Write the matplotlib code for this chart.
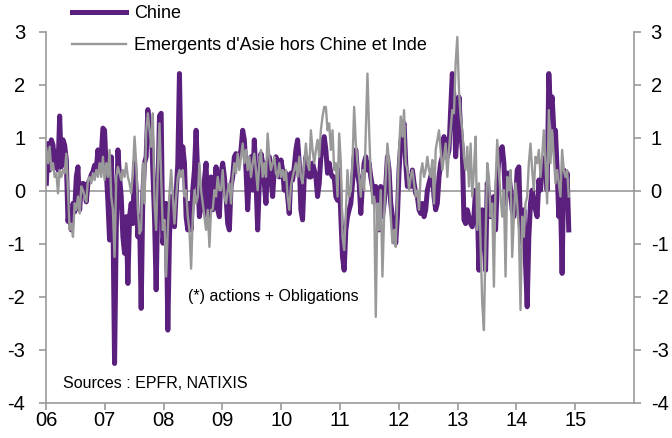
import matplotlib
matplotlib.use("Agg")
import matplotlib.pyplot as plt
import numpy as np
import pandas as pd

PURPLE = "#5b1f7d"
GREY = "#999999"
AXIS = "#999999"

plt.rcParams["font.family"] = ["Liberation Sans", "DejaVu Sans"]

# flux hebdomadaires (en % des actifs)
chine = [
    0.14, 0.89, 0.39, 0.96, 0.86, 0.45, 0.74, 0.39, 1.41, 0.45,
    0.96, 0.86, 0.58, -0.58, -0.36, -0.74, -0.24, -0.40, 0.26, 0.45,
    -0.36, 0.08, 0.14, 0.11, -0.21, 0.14, 0.20, 0.30, 0.36, 0.48,
    0.39, 0.77, 0.55, 0.67, 1.18, 1.14, 0.39, -0.21, -0.93, 0.64,
    -0.43, -3.26, -0.74, 0.77, 0.26, -0.11, -0.87, -1.18, -0.49, -1.75,
    -0.49, -0.24, -0.62, 0.52, 0.01, -0.87, -0.49, -2.22, -0.05, 0.52,
    0.64, 1.53, 1.14, 1.27, 0.39, -0.49, -1.87, -0.11, 1.41, 1.46,
    -0.99, -0.74, -0.24, -2.63, -0.87, -0.11, -0.49, -0.68, -0.05, 0.50,
    2.21, 0.33, 0.83, 0.52, -0.49, -0.74, -0.24, -0.74, 0.01, 0.39,
    1.14, 0.26, -0.49, -0.24, -0.36, 0.20, 0.52, -0.49, -0.24, 0.26,
    -0.36, 0.01, 0.45, -0.36, -0.49, 0.33, 0.52, 0.26, -0.11, -0.62,
    -0.74, 0.08, 0.26, 0.64, 0.70, 0.52, 0.64, 0.77, 1.14, 0.96,
    0.39, -0.36, 0.26, 0.64, 0.01, 0.96, 0.20, -0.74, 0.14, 0.70,
    0.52, 0.14, -0.24, 0.52, 0.64, 0.26, -0.11, 0.39, 0.64, 0.52,
    0.26, 0.58, 0.39, 0.01, 0.33, -0.11, -0.43, 0.33, 0.20, 0.45,
    0.77, 0.96, 0.52, -0.36, -0.55, 0.26, 0.64, 0.39, 0.26,
    0.26, 0.52, 0.39, 0.26, -0.11, 0.14, 0.64, 0.89, 1.02, 0.77,
    0.33, 0.52, 0.33, 0.26, 0.26, -0.11, -0.18, 0.39, -0.49, -1.25,
    -1.50, -0.74, -0.49, -0.36, -0.24, 0.14, 0.64, 0.77, 0.33, 0.14,
    -0.43, 0.14, 0.52, 0.64, 0.39, 0.52, 0.26, 0.08, -0.11, 0.08,
    0.01, -0.74, 0.08, -0.49, -0.24, 0.08, 0.64, 0.39, -0.24, -0.49,
    -0.74, -0.99, -0.49, 0.39, 0.89, 1.14, 1.27, 0.52, 0.08, 0.26,
    0.08, 0.39, 0.14, -0.05, -0.11, -0.36, -0.43, -0.24, -0.49, -0.36,
    0.01, 0.14, 0.26, 0.39, -0.11, -0.36, -0.24, 0.26, 0.52,
    0.64, 1.02, 0.64, 0.64, 0.77, 1.52, 2.21, 1.77, 0.64, 1.14,
    1.77, 1.14, 0.77, -0.55, -0.62, -0.36, -0.49, -0.62, -0.68, -0.49,
    0.01, -0.24, -1.50, -0.74, -0.36, -0.74, -1.50, 0.14, -0.11, -0.49,
    -0.24, -0.11, -0.74, 0.14, 0.64, 0.77, 0.83, 0.52, -0.24, 0.33,
    0.33, 0.01, -0.36, -0.49, -0.24, 0.39, 0.45, -0.74, -0.99, -0.36,
    -1.37, -2.19, -0.87, -0.24, 0.01, -0.24, -0.36, -0.49, 0.20, 0.01,
    0.39, 0.52, 0.64, 0.01, 2.21, 1.52, 1.77, 1.14, 1.14, 0.39,
    -0.49, -0.11, -1.56, 0.39, 0.01, 0.33, -0.74,
]

asie_hors_chine_inde = [
    0.80, 0.52, 0.83, 0.39, 0.52, 0.26, 0.33, -0.05, 0.39, 0.26,
    0.39, 0.33, 0.70, 0.01, -0.74, -0.62, -0.87, -0.24, -0.36, -0.11,
    -0.43, 0.08, 0.01, -0.11, -0.21, 0.20, 0.26, 0.14, 0.33, 0.20,
    0.39, 0.26, 0.52, 0.26, 0.64, 0.20, 0.52, 0.26, 0.77, -0.11,
    -0.36, -1.25, 0.26, 0.45, 0.33, 0.20, 0.39, 0.26, 0.52, 0.26,
    0.14, -0.05, 0.33, 1.02, 0.52, -0.36, -0.81, -0.74, 0.52, -0.24,
    1.14, 1.46, 1.14, 0.83, 1.46, -0.24, -0.74, 0.39, 1.27, 0.26,
    -0.74, -0.55, -1.62, -0.74, -0.05, 0.39, -0.11, -0.62, -0.11, 0.26,
    0.39, 0.26, 0.39, -0.11, 0.01, -0.49, -0.74, -1.47, -0.49, 0.01,
    -0.24, -0.11, 0.52, 0.01, -0.24, -0.49, -0.74, -0.36, -1.06, -0.36,
    -0.36, 0.01, -0.11, 0.26, 0.01, 0.01, 0.39, -0.11, -0.24, 0.01,
    0.14, -0.24, 0.26, 0.52, 0.33, 0.70, 0.39, 0.64, 0.89, 0.52,
    0.77, 0.39, 0.64, 0.26, 0.52, 0.70, 0.39, 0.01, 0.52, 0.77,
    0.26, 0.52, 0.26, 1.08, 0.64, 0.39, 0.52, 0.64, 0.33, 0.26,
    0.52, 0.26, 0.39, 0.20, 0.39, -0.11, -0.36, 0.08, 0.26, 0.39,
    0.52, 0.26, 0.64, 0.26, 0.14, 0.52, 0.89, 0.52, 0.39,
    1.14, 0.77, 0.52, 0.77, 0.96, 0.64, 1.14, 1.40, 1.58, 1.58,
    1.14, 1.27, 0.77, 1.14, 0.39, 0.52, -0.11, 1.08, 0.52, -0.87,
    -1.12, -0.43, 0.39, -0.11, 0.01, 0.52, 1.58, 0.89, 0.52, 0.26,
    -0.11, 0.39, 0.01, 1.14, 2.21, 1.14, 0.26, -0.24, -0.11, -2.38,
    -0.24, -0.74, 0.01, -1.62, -0.49, 0.26, 0.89, 0.52, -0.49, -0.99,
    -0.74, -1.06, -0.11, 0.77, 1.40, 1.02, 1.52, 0.52, 0.39, 0.01,
    0.26, 0.39, 0.14, -0.11, 0.01, -0.36, 0.33, 0.52, 0.26, 0.39,
    0.64, 0.39, 0.26, 0.58, -0.24, 0.77, 0.96, 1.14, 0.77,
    0.39, 0.64, 0.89, 0.26, 0.77, 1.14, 1.52, 1.46, 2.40, 2.90,
    1.90, 1.40, 1.14, 0.64, 0.39, 0.83, 0.08, 0.89, -0.11, 0.39,
    1.02, -0.74, 0.14, -0.99, -2.13, -2.63, -0.87, 0.52, 0.26, -0.49,
    -0.24, -1.81, 0.14, 0.96, 0.39, -0.11, -0.49, 0.01, -1.62, 0.26,
    0.01, 0.39, -1.25, -0.49, 0.14, -0.24, -0.74, -2.25, -0.49, -0.87,
    -0.24, -0.11, 0.52, 0.89, 0.39, 0.01, 0.64, 0.52, 0.77, 0.26,
    0.64, 1.14, 0.52, -0.24, 1.52, 0.52, 1.14, 0.64, 0.14, 0.39,
    0.14, -0.11, 0.77, 0.39, 0.26, 0.39, -0.11,
]

dates = pd.date_range("2006-01-03", periods=len(chine), freq="248h")
years = list(range(2006, 2016))
year_labels = [f"{y % 100:02d}" for y in years]
y_ticks = [3, 2, 1, 0, -1, -2, -3, -4]


def main() -> None:
    fig = plt.figure(figsize=(6.72, 4.38), dpi=100)
    ax = fig.add_axes([0.0685, 0.0806, 0.875, 0.847])

    ax.axhline(0, color=AXIS, linewidth=1.2, zorder=1)
    l1, = ax.plot(dates, chine, color=PURPLE, linewidth=3.6, zorder=2,
                  solid_joinstyle="round", label="Chine")
    l2, = ax.plot(dates, asie_hors_chine_inde, color=GREY, linewidth=1.7, zorder=3,
                  label="Emergents d'Asie hors Chine et Inde")

    ax.set_xlim(pd.Timestamp("2006-01-01"), pd.Timestamp("2016-01-01"))
    ax.set_ylim(-4, 3)
    ax.set_xticks([pd.Timestamp(f"{y}-01-01") for y in years])
    ax.set_xticklabels(year_labels)
    ax.set_yticks(y_ticks)
    ax.set_yticklabels([str(v) for v in y_ticks])

    for side in ("left", "right", "bottom"):
        ax.spines[side].set_color(AXIS)
        ax.spines[side].set_linewidth(1.2)
    ax.spines["top"].set_visible(False)

    ax.tick_params(axis="y", direction="out", length=5, width=1.2, color=AXIS,
                   labelsize=14.5, pad=10, left=True, right=False)
    ax.tick_params(axis="x", direction="out", length=5, width=1.2, color=AXIS,
                   labelsize=14.5, pad=1)

    ax2 = ax.twinx()
    ax2.set_ylim(-4, 3)
    ax2.set_yticks(y_ticks)
    ax2.set_yticklabels([str(v) for v in y_ticks])
    ax2.tick_params(axis="y", direction="out", length=5, width=1.2, color=AXIS,
                    labelsize=14.5, pad=7)
    for side in ("left", "right", "bottom", "top"):
        ax2.spines[side].set_visible(False)

    fig.legend(handles=[l1, l2], loc="upper left",
               bbox_to_anchor=(72 / 672, 1 - 5 / 438), frameon=False,
               fontsize=13, handlelength=3.0, handletextpad=0.45,
               labelspacing=0.85, borderpad=0, borderaxespad=0)

    ax.text(pd.Timestamp("2008-05-30"), -2.0, "(*) actions + Obligations",
            fontsize=11.5, va="center", ha="left")
    ax.text(pd.Timestamp("2006-04-15"), -3.63, "Sources : EPFR, NATIXIS",
            fontsize=11.5, va="center", ha="left")

    fig.savefig("out.png", dpi=100)
    plt.close(fig)


if __name__ == "__main__":
    main()
